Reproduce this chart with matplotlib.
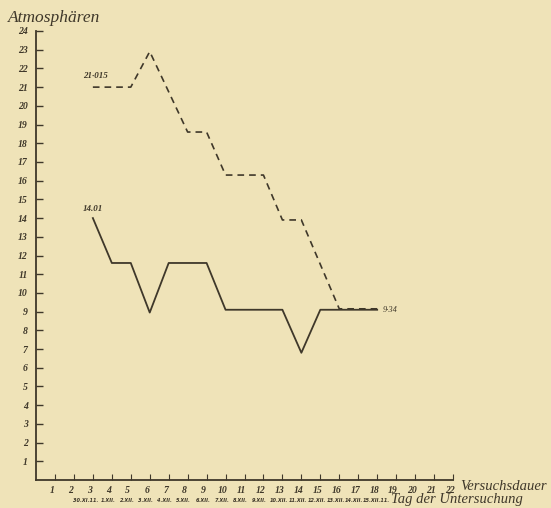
import matplotlib
matplotlib.use("Agg")
import matplotlib.pyplot as plt
from matplotlib.transforms import blended_transform_factory, ScaledTranslation

# ---- data ----
dashed_days = [3, 5, 6, 8, 9, 10, 12, 13, 14, 16, 18]
dashed_vals = [21.0, 21.0, 22.9, 18.6, 18.6, 16.3, 16.3, 13.9, 13.9, 9.15, 9.15]
solid_days = [3, 4, 5, 6, 7, 9, 10, 13, 14, 15, 18]
solid_vals = [14.0, 11.6, 11.6, 8.95, 11.6, 11.6, 9.1, 9.1, 6.8, 9.1, 9.1]
y_ticks = list(range(1, 25))
x_ticks = list(range(1, 23))
date_days = list(range(3, 19))
date_labels = ["30.XI.11.", "1.XII.", "2.XII.", "3.XII.", "4.XII.", "5.XII.", "6.XII.",
               "7.XII.", "8.XII.", "9.XII.", "10.XII.", "11.XII.", "12.XII.", "13.XII.",
               "14.XII.", "15.XII.11."]
start_dashed_label = "21·015"
start_solid_label = "14.01"
end_label = "9·34"

BG = "#efe3b8"
INK = "#3f382a"
SERIF = ["Liberation Serif", "DejaVu Serif"]

fig = plt.figure(figsize=(5.51, 5.08), dpi=100, facecolor=BG)
ax = fig.add_axes([36/551, 28/508, 417/551, 449/508], facecolor=BG)

ax.plot(dashed_days, dashed_vals, color=INK, lw=1.2, ls=(0, (4, 3)))
ax.plot(solid_days, solid_vals, color=INK, lw=1.3)

ax.set_xlim(0, 22)
ax.set_ylim(0, 24)
for s in ["top", "right"]:
    ax.spines[s].set_visible(False)
for s in ["left", "bottom"]:
    ax.spines[s].set_color(INK)
    ax.spines[s].set_linewidth(1.3)

ax.set_yticks(y_ticks)
ax.set_yticklabels([str(v) for v in y_ticks])
ax.set_xticks(x_ticks)
ax.set_xticklabels([str(v) for v in x_ticks])
ax.tick_params(axis="y", direction="in", length=5, width=1, colors=INK, pad=6)
ax.tick_params(axis="x", direction="in", length=4, width=0.8, colors=INK, pad=4)
shift = ScaledTranslation(-3/100, 0, fig.dpi_scale_trans)
for lab in ax.get_xticklabels() + ax.get_yticklabels():
    lab.set_family(SERIF)
    lab.set_style("italic")
    lab.set_weight("bold")
    lab.set_fontsize(7)
    lab.set_color(INK)
for lab in ax.get_xticklabels():
    lab.set_transform(lab.get_transform() + shift)

# annotations
ax.text(dashed_days[0] - 0.5, dashed_vals[0] + 0.4, start_dashed_label, family=SERIF,
        style="italic", weight="bold", fontsize=6.5, color=INK, ha="left", va="bottom")
ax.text(solid_days[0] - 0.55, solid_vals[0] + 0.25, start_solid_label, family=SERIF,
        style="italic", weight="bold", fontsize=6.5, color=INK, ha="left", va="bottom")
ax.text(solid_days[-1] + 0.3, solid_vals[-1], end_label, family=SERIF,
        style="italic", fontsize=6, color=INK, ha="left", va="center")

trans = blended_transform_factory(ax.transData, fig.transFigure)
n = len(date_labels)
for i, (d, lab) in enumerate(zip(date_days, date_labels)):
    off = -0.4 if i == 0 else (-0.05 if i == n - 1 else -0.2)
    ax.text(d + off, 7/508, lab, transform=trans,
            family=["Liberation Sans Narrow", "DejaVu Sans"],
            style="italic", weight="bold", fontsize=3.6, color=INK,
            ha="center", va="center")

fig.text(391/551, 8/508, "Tag der Untersuchung", family=SERIF, style="italic",
         fontsize=10.5, color=INK, ha="left", va="center")
fig.text(460/551, 22/508, "Versuchsdauer", family=SERIF, style="italic",
         fontsize=10.5, color=INK, ha="left", va="center")
fig.text(8/551, 490/508, "Atmosphären", family=SERIF, style="italic",
         fontsize=12.5, color=INK, ha="left", va="center")

fig.savefig("out.png", dpi=100, facecolor=BG)
